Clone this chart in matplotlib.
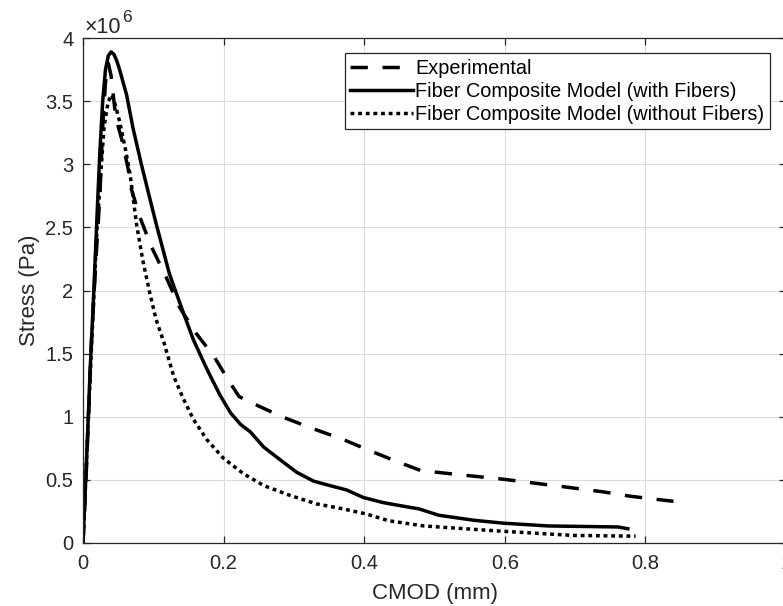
import matplotlib
matplotlib.use("Agg")
import matplotlib.pyplot as plt
import numpy as np

plt.rcParams['font.family'] = ['Liberation Sans', 'DejaVu Sans']

# Experimental (dashed)
exp_x = [0, 0.005, 0.012, 0.019, 0.024, 0.028, 0.032, 0.036, 0.040, 0.045, 0.050, 0.055,
         0.064, 0.069, 0.081, 0.097, 0.118, 0.137, 0.161, 0.186, 0.209, 0.222, 0.240,
         0.283, 0.325, 0.370, 0.413, 0.449, 0.480, 0.520, 0.598, 0.683, 0.740, 0.779, 0.840]
exp_y = [0, 0.6, 1.6, 2.3, 2.75, 3.3, 3.65, 3.80, 3.70, 3.45, 3.30, 3.20,
         2.97, 2.80, 2.58, 2.35, 2.11, 1.87, 1.66, 1.48, 1.27, 1.16, 1.11,
         1.00, 0.91, 0.82, 0.72, 0.64, 0.575, 0.55, 0.505, 0.446, 0.405, 0.37, 0.33]

# Fiber Composite Model (with Fibers) (solid)
wf_x = [0, 0.005, 0.010, 0.015, 0.020, 0.024, 0.028, 0.032, 0.036, 0.040, 0.044, 0.048,
        0.052, 0.062, 0.071, 0.083, 0.095, 0.104, 0.123, 0.143, 0.157, 0.176, 0.195,
        0.210, 0.224, 0.238, 0.257, 0.285, 0.304, 0.328, 0.351, 0.375, 0.399, 0.427,
        0.450, 0.478, 0.506, 0.556, 0.598, 0.662, 0.761, 0.775]
wf_y = [0, 0.65, 1.35, 1.95, 2.6, 3.1, 3.5, 3.75, 3.86, 3.89, 3.87, 3.82,
        3.75, 3.55, 3.29, 3.00, 2.73, 2.53, 2.13, 1.82, 1.61, 1.38, 1.17,
        1.03, 0.94, 0.88, 0.76, 0.64, 0.56, 0.49, 0.455, 0.42, 0.36, 0.32,
        0.297, 0.27, 0.22, 0.18, 0.157, 0.135, 0.127, 0.113]

# Fiber Composite Model (without Fibers) (dotted)
nf_x = [0, 0.010, 0.020, 0.030, 0.036, 0.041, 0.046, 0.052, 0.060, 0.067, 0.076, 0.085,
        0.095, 0.104, 0.115, 0.129, 0.143, 0.157, 0.176, 0.200, 0.228, 0.257, 0.295,
        0.332, 0.370, 0.403, 0.435, 0.485, 0.591, 0.697, 0.786]
nf_y = [0, 1.3, 2.5, 3.3, 3.5, 3.55, 3.47, 3.34, 3.13, 2.92, 2.53, 2.24,
        1.98, 1.77, 1.59, 1.32, 1.14, 0.98, 0.82, 0.67, 0.55, 0.455, 0.376,
        0.31, 0.27, 0.23, 0.176, 0.135, 0.095, 0.06, 0.054]

labels = ['Experimental', 'Fiber Composite Model (with Fibers)',
          'Fiber Composite Model (without Fibers)']
x_ticks = [0, 0.2, 0.4, 0.6, 0.8, 1]
x_ticklabels = ['0', '0.2', '0.4', '0.6', '0.8', '1']
y_ticks = [0, 0.5, 1, 1.5, 2, 2.5, 3, 3.5, 4]
y_ticklabels = ['0', '0.5', '1', '1.5', '2', '2.5', '3', '3.5', '4']
scale = 1e6

W, H = 783, 606
fig = plt.figure(figsize=(W / 100, H / 100), dpi=100)
left, right, top, bottom = 83, 786, 38, 543
ax = fig.add_axes([left / W, (H - bottom) / H, (right - left) / W, (bottom - top) / H])

lw = 2.5
ax.plot(exp_x, np.array(exp_y) * scale, color='black', lw=lw, dashes=(5.0, 4.2),
        label=labels[0])
ax.plot(wf_x, np.array(wf_y) * scale, color='black', lw=lw, linestyle='-',
        label=labels[1])
ax.plot(nf_x, np.array(nf_y) * scale, color='black', lw=lw, linestyle=(0, (1.1, 1.1)),
        label=labels[2])

ax.set_xlim(0, 1)
ax.set_ylim(0, 4 * scale)
ax.set_xticks(x_ticks)
ax.set_xticklabels(x_ticklabels)
ax.set_yticks([v * scale for v in y_ticks])
ax.set_yticklabels(y_ticklabels)

spine_col = '#262626'
for s in ax.spines.values():
    s.set_color(spine_col)
    s.set_linewidth(0.9)
ax.tick_params(direction='in', length=5, width=0.9, color=spine_col,
               labelcolor=spine_col, labelsize=14.5, top=True, right=True)
ax.tick_params(axis='x', pad=8)
ax.tick_params(axis='y', pad=7)
ax.grid(True, color='#dcdcdc', linewidth=0.8)
ax.set_axisbelow(True)

ax.set_xlabel('CMOD (mm)', fontsize=16, color=spine_col, labelpad=7)
ax.set_ylabel('Stress (Pa)', fontsize=16, color=spine_col, labelpad=4)

# exponent label (MATLAB style)
t1 = fig.text(85 / W, 1 - 33 / H, '\u00d710', fontsize=15.5, color=spine_col,
              ha='left', va='baseline')
fig.canvas.draw()
bb = t1.get_window_extent(renderer=fig.canvas.get_renderer())
fig.text((bb.x1 + 0.5) / W, 1 - 22 / H, '6', fontsize=12.5, color=spine_col,
         ha='left', va='baseline')

leg = ax.legend(loc='upper right',
                bbox_to_anchor=((770 - left) / (right - left), 1 - (53 - top) / (bottom - top)),
                fontsize=14.3, frameon=True, fancybox=False, framealpha=1,
                edgecolor=spine_col, borderpad=0.28, labelspacing=0.2,
                handlelength=3.17, handletextpad=0.1, borderaxespad=0)
leg.get_frame().set_linewidth(0.9)
for t in leg.get_texts():
    t.set_color('black')

fig.savefig('out.png', dpi=100)
